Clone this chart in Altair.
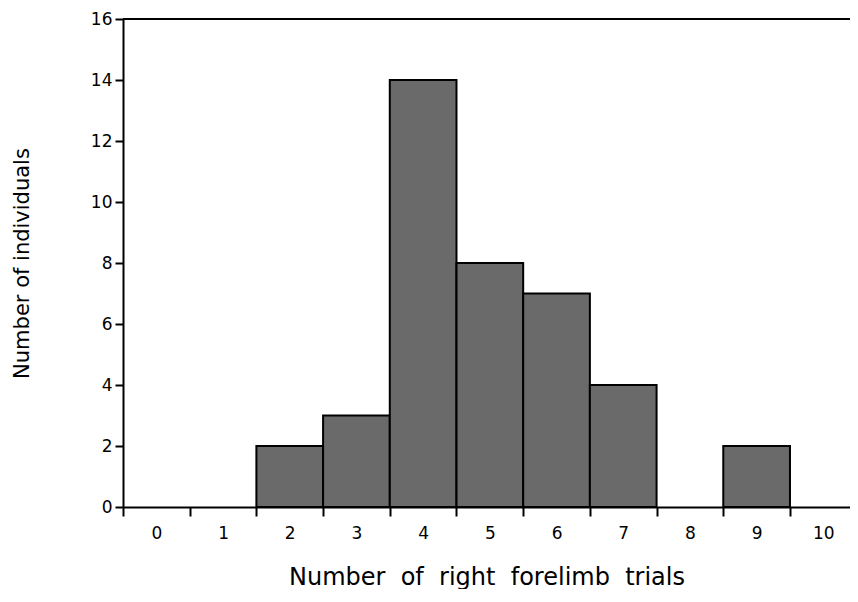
import altair as alt
import pandas as pd

trials = [0, 1, 2, 3, 4, 5, 6, 7, 8, 9, 10]
individuals = [0, 0, 2, 3, 14, 8, 7, 4, 0, 2, 0]
y_ticks = [0, 2, 4, 6, 8, 10, 12, 14, 16]
bin_edges = [-0.5, 0.5, 1.5, 2.5, 3.5, 4.5, 5.5, 6.5, 7.5, 8.5, 9.5]

df = pd.DataFrame({"trials": trials, "count": individuals})
df["lo"] = df["trials"] - 0.5
df["hi"] = df["trials"] + 0.5
df["base"] = 0
df = df[df["count"] > 0]

W, H = 727, 488
FONT = "DejaVu Sans"
NB = "\u00a0"
x_title = (NB + " ").join(["Number", "of", "right", "forelimb", "trials"])
x_scale = alt.Scale(domain=[-0.5, 10.4], nice=False, zero=False)
y_scale = alt.Scale(domain=[0, 16], nice=False)

bars = alt.Chart(df).mark_bar(
    fill="#6a6a6a", stroke="black", strokeWidth=2
).encode(
    x=alt.X("lo:Q", scale=x_scale,
            axis=alt.Axis(
                title=x_title,
                values=bin_edges,
                labelExpr="format(datum.value + 0.5, 'd')",
                labelOffset=W / 10.9 / 2,
                labelOverlap=False, labelBound=False, labelFlush=False,
                tickSize=9, tickWidth=2, tickColor="black",
                domainColor="black", domainWidth=2,
                labelFont=FONT, labelFontSize=17, labelColor="black", labelPadding=9,
                titleFont=FONT, titleFontSize=24, titleFontWeight="normal",
                titleColor="black", titlePadding=24, grid=False)),
    x2="hi:Q",
    y=alt.Y("count:Q", scale=y_scale,
            axis=alt.Axis(
                title="Number of individuals",
                values=y_ticks,
                tickSize=8, tickWidth=2, tickColor="black",
                domainColor="black", domainWidth=2,
                labelFont=FONT, labelFontSize=17, labelColor="black", labelPadding=3,
                titleFont=FONT, titleFontSize=21, titleFontWeight="normal",
                titleColor="black", titlePadding=58, grid=False)),
    y2="base:Q",
)

top = alt.Chart(pd.DataFrame({"v": [16]})).mark_rule(
    color="black", strokeWidth=2
).encode(y=alt.Y("v:Q", scale=y_scale))

chart = alt.layer(bars, top).properties(
    width=W, height=H,
    autosize=alt.AutoSizeParams(type="none"),
    padding={"left": 115, "top": 11, "right": 0, "bottom": 82},
).configure_view(stroke=None)

chart.save("out.html", embed_options={"renderer": "svg", "actions": False})
